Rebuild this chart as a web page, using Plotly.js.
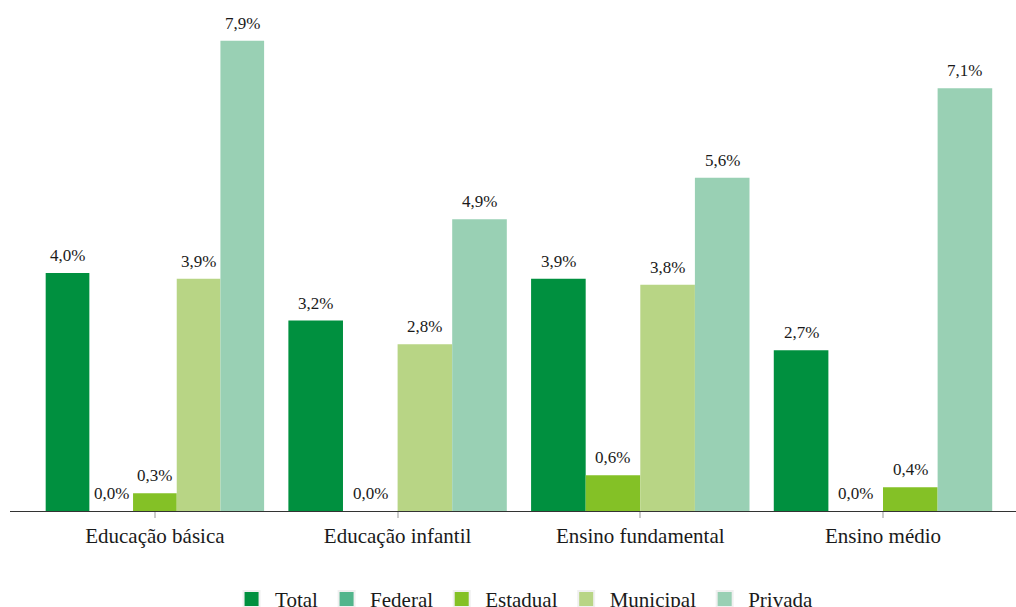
<!DOCTYPE html>
<html>
<head>
<meta charset="utf-8">
<script src="https://cdn.plot.ly/plotly-3.0.1.min.js"></script>
<style>html,body{margin:0;padding:0;background:#fff}#chart{width:1016px;height:607px}</style>
</head>
<body>
<div id="chart"></div>
<script>
// Data
var categories = ["Educação básica", "Educação infantil", "Ensino fundamental", "Ensino médio"];
var seriesNames = ["Total", "Federal", "Estadual", "Municipal", "Privada"];
var total     = [4.0, 3.2, 3.9, 2.7];
var federal   = [0.0, 0.0, null, 0.0];
var estadual  = [0.3, null, 0.6, 0.4];
var municipal = [3.9, 2.8, 3.8, null];
var privada   = [7.9, 4.9, 5.6, 7.1];
var colors = ["#00903f", "#52b58c", "#84c126", "#b8d585", "#99d0b4"];

var allSeries = [total, federal, estadual, municipal, privada];
var FONT = "Liberation Serif, Times New Roman, serif";

// Dodge like ggplot: only present series share the group width per category
var groupWidth = 0.9;
var widths = allSeries.map(function(){ return []; });
var offsets = allSeries.map(function(){ return []; });
categories.forEach(function(c, i){
  var present = [];
  allSeries.forEach(function(s, k){ if (s[i] !== null) present.push(k); });
  var w = groupWidth / present.length;
  allSeries.forEach(function(s, k){
    var j = present.indexOf(k);
    widths[k].push(w);
    offsets[k].push(j < 0 ? 0 : -groupWidth/2 + j*w);
  });
});

var traces = [];
var annotations = [];
allSeries.forEach(function(s, k){
  traces.push({
    type: "bar",
    x: categories,
    y: s,
    width: widths[k],
    offset: offsets[k],
    marker: {color: colors[k], line: {width: 0}},
    showlegend: false,
    hoverinfo: "skip"
  });
  s.forEach(function(v, i){
    if (v === null) return;
    annotations.push({
      x: i + offsets[k][i] + widths[k][i]/2,
      y: v,
      xref: "x", yref: "y",
      text: v.toFixed(1).replace(".", ",") + "%",
      showarrow: false,
      yanchor: "bottom",
      yshift: 6,
      font: {family: FONT, size: 17, color: "#1a1a1a"}
    });
  });
});
// legend-only traces with square keys
seriesNames.forEach(function(n, k){
  traces.push({
    type: "scatter",
    mode: "markers",
    x: [null], y: [null],
    name: n,
    marker: {symbol: "square", size: 16, color: colors[k], line: {color: "#f0f0f0", width: 2}},
    showlegend: true
  });
});

var layout = {
  width: 1016, height: 607,
  margin: {l: 10, r: 0, t: 5, b: 96, autoexpand: false},
  paper_bgcolor: "#ffffff",
  plot_bgcolor: "#ffffff",
  barmode: "overlay",
  font: {family: FONT, color: "#1a1a1a"},
  annotations: annotations,
  xaxis: {
    type: "category",
    range: [-0.597, 3.548],
    showline: true, linecolor: "#333333", linewidth: 1,
    ticks: "outside", ticklen: 6, tickwidth: 2, tickcolor: "#cccccc",
    tickangle: 0,
    tickfont: {family: FONT, size: 21, color: "#1a1a1a"},
    showgrid: false, zeroline: false, fixedrange: true
  },
  yaxis: {
    range: [0, 8.5],
    visible: false, showgrid: false, zeroline: false, fixedrange: true
  },
  showlegend: true,
  legend: {
    orientation: "h",
    x: 0.51, xanchor: "center",
    y: -0.134, yanchor: "top",
    font: {family: FONT, size: 21, color: "#1a1a1a"},
    itemsizing: "trace",
    itemwidth: 37,
    bgcolor: "rgba(0,0,0,0)"
  }
};

Plotly.newPlot("chart", traces, layout, {displayModeBar: false, staticPlot: true});
</script>
</body>
</html>
